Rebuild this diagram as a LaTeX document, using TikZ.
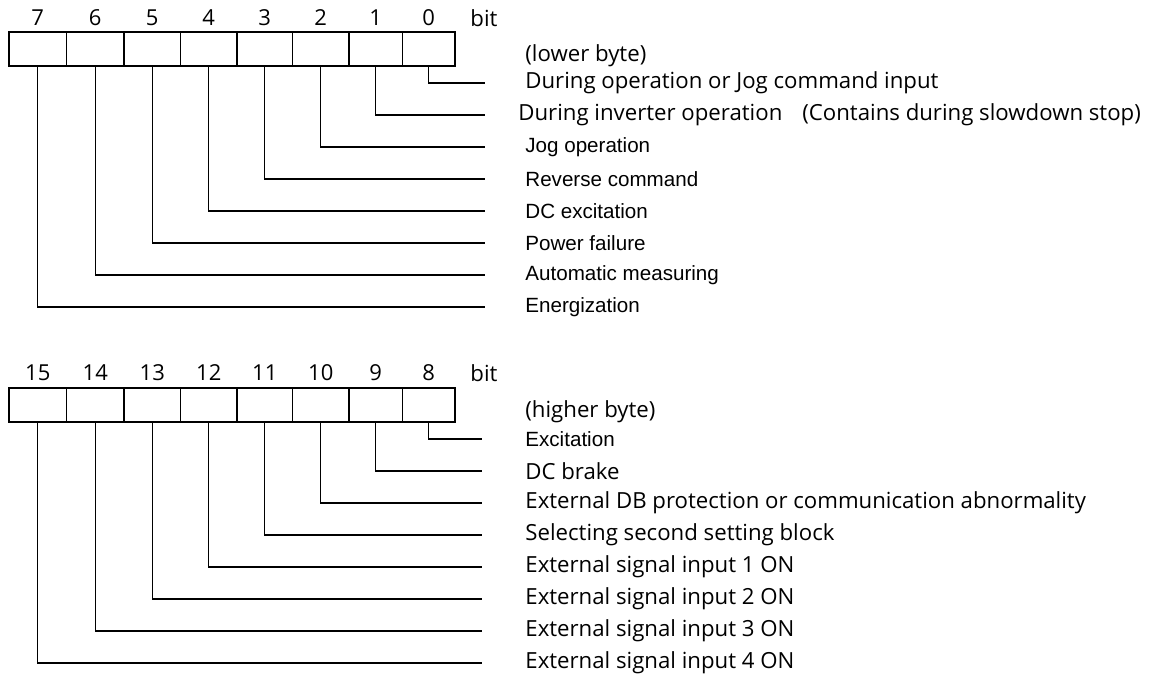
\documentclass[tikz,border=0pt]{standalone}
\usepackage{fontspec}
\setmainfont{Open Sans}
\newfontfamily\arialfont{Liberation Sans}
\usetikzlibrary{positioning}

\tikzset{
  cell/.style={draw, line width=0.9pt, minimum height=17pt, inner sep=0pt},
  bitno/.style={inner sep=0pt, font=\fontsize{11}{13}\selectfont},
  desc/.style={anchor=west, inner sep=0pt, font=\fontsize{11.1}{13}\selectfont},
  desca/.style={anchor=west, inner sep=0pt, font=\arialfont\fontsize{10.3}{12}\selectfont},
  wire/.style={line width=0.6pt},
}

\begin{document}
\begin{tikzpicture}[x=0.5pt, y=-0.5pt]
  \useasboundingbox (0,0) rectangle (1151,679);

  %% lower byte register
  \foreach \b/\xa/\xb in {7/9/66.5, 6/66.5/124, 5/124/180.5, 4/180.5/237,
                          3/237/292.5, 2/292.5/349, 1/349/402.5, 0/402.5/455} {
    \node[cell, minimum width={(\xb-\xa)*0.5pt}] (lo\b) at ({(\xa+\xb)/2}, 49) {};
    \node[bitno] (lon\b) at ({(\xa+\xb)/2}, 18) {\b};
  }
  \node[desc] (lobit) at (470, 18) {bit};
  \node[desc] (lobyte) at (525, 56) {(lower byte)};

  %% lower byte meanings
  \node[desc]  (lot0) at (525, 83)  {During operation or Jog command input};
  \node[desc]  (lot1) at (518, 115) {During inverter operation\hspace{0.9em}(Contains during slowdown stop)};
  \node[desca] (lot2) at (525, 147) {Jog operation};
  \node[desca] (lot3) at (525, 179) {Reverse command};
  \node[desca] (lot4) at (525, 211) {DC excitation};
  \node[desca] (lot5) at (525, 243) {Power failure};
  \node[desca] (lot6) at (525, 275) {Automatic measuring};
  \node[desca] (lot7) at (525, 307) {Energization};

  \foreach \b in {0,...,7} {
    \coordinate (loe\b) at (485, {83+32*\b});
    \draw[wire] (lo\b.south) |- (loe\b);
  }

  %% higher byte register
  \foreach \b/\xa/\xb in {15/9/66.5, 14/66.5/124, 13/124/180.5, 12/180.5/237,
                          11/237/292.5, 10/292.5/349, 9/349/402.5, 8/402.5/455} {
    \node[cell, minimum width={(\xb-\xa)*0.5pt}] (hi\b) at ({(\xa+\xb)/2}, 405) {};
    \node[bitno] (hin\b) at ({(\xa+\xb)/2}, 373) {\b};
  }
  \node[desc] (hibit) at (470, 373) {bit};
  \node[desc] (hibyte) at (525, 412) {(higher byte)};

  %% higher byte meanings
  \node[desca] (hit8)  at (525, 439) {Excitation};
  \node[desc]  (hit9)  at (525, 471) {DC brake};
  \node[desc]  (hit10) at (525, 503) {External DB protection or communication abnormality};
  \node[desc]  (hit11) at (525, 535) {Selecting second setting block};
  \node[desc]  (hit12) at (525, 567) {External signal input 1 ON};
  \node[desc]  (hit13) at (525, 599) {External signal input 2 ON};
  \node[desc]  (hit14) at (525, 631) {External signal input 3 ON};
  \node[desc]  (hit15) at (525, 663) {External signal input 4 ON};

  \foreach \b in {8,...,15} {
    \coordinate (hie\b) at (482, {439+32*(\b-8)});
    \draw[wire] (hi\b.south) |- (hie\b);
  }
\end{tikzpicture}
\end{document}
